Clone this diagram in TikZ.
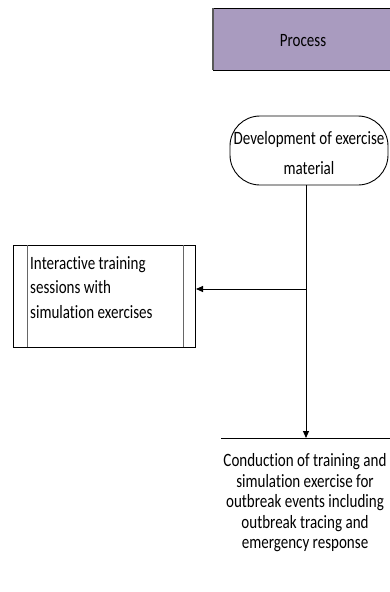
\documentclass[tikz,border=0pt]{standalone}
\usepackage{fontspec}
\setmainfont[FakeStretch=0.8,Ligatures=NoCommon]{Carlito}
\usetikzlibrary{arrows.meta}
\definecolor{procfill}{RGB}{169,155,191}
\begin{document}
\begin{tikzpicture}[x=1pt,y=-1pt,
  lbl/.style={font=\fontsize{18.8}{20.5}\selectfont, align=center, inner sep=0},
  conn/.style={draw=black, line width=0.9pt, -{Triangle[length=7pt,width=6pt]}}]
\useasboundingbox (0,0) rectangle (390,592);
% Process header
\fill[procfill] (213,8) rectangle (392,70);
\draw[black, line width=1pt] (392,8) -- (213,8);
\draw[black, line width=1pt] (213,70) -- (392,70);
\draw[black!65, line width=1.2pt] (213,8) -- (213,70);
\node[lbl] (proc) at (303,41) {Process};
% Development terminator
\draw[line width=0.9pt, rounded corners=30] (230,116) rectangle (388,185);
\node[lbl, font=\fontsize{18.8}{30}\selectfont] (dev) at (309,153) {Development of exercise\\material};
\coordinate (devb) at (306,185);
% Interactive (predefined process)
\draw[line width=0.9pt] (13,245) rectangle (195,347);
\draw[black!60, line width=0.8pt] (27,245) -- (27,347) (183,245) -- (183,347);
\node[lbl, align=left, anchor=north west, font=\fontsize{18.8}{24.5}\selectfont] (inter) at (30,256) {Interactive training\\sessions with\\simulation exercises};
\coordinate (interR) at (196,289);
% Conduction box (top edge only visible)
\draw[line width=0.9pt] (221,438) -- (392,438);
\coordinate (condT) at (306,438);
\node[lbl] (cond) at (305,503) {Conduction of training and\\simulation exercise for\\outbreak events including\\outbreak tracing and\\emergency response};
% connectors
\coordinate (junc) at (306,289);
\draw[conn] (devb) -- (condT);
\draw[conn] (junc) -- (interR);
\end{tikzpicture}
\end{document}
